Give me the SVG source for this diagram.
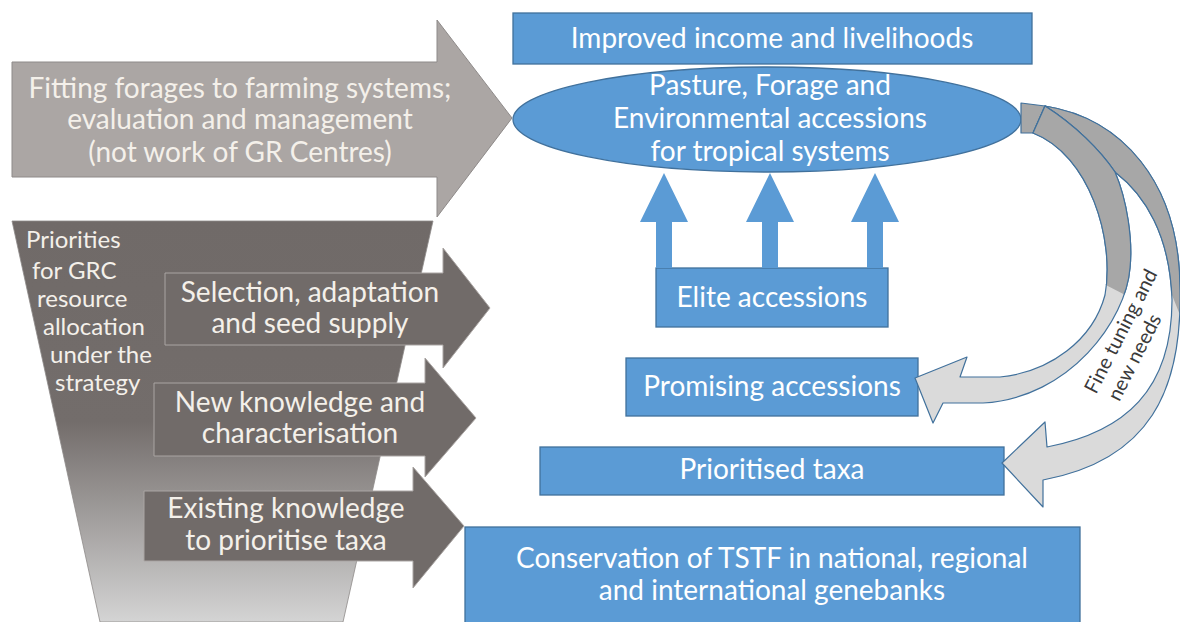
<svg xmlns="http://www.w3.org/2000/svg" width="1180" height="622" viewBox="0 0 1180 622">
<defs>
<style>
.box{fill:#5b9bd5;stroke:#41719c;stroke-width:1.3}
.wt{font-family:Lato,"Liberation Sans",sans-serif;font-size:28px;fill:#ffffff;text-anchor:middle}
.gt{font-family:Lato,"Liberation Sans",sans-serif;font-size:28px;fill:#f4f0ea;text-anchor:middle}
.ft{font-family:Lato,"Liberation Sans",sans-serif;font-size:24px;fill:#f4f0ea}
.ct{font-family:Lato,"Liberation Sans",sans-serif;font-size:20px;fill:#3a3a3a;text-anchor:start}
.garr{fill:#716b69;stroke:#aaa5a3;stroke-width:1}
.band{fill:#dadada;stroke:#41719c;stroke-width:1.2;stroke-linejoin:round}
.bandd{fill:#a7a7a7;stroke:#41719c;stroke-width:1.2;stroke-linejoin:round}
</style>
<linearGradient id="fun" x1="0" y1="221" x2="0" y2="622" gradientUnits="userSpaceOnUse">
<stop offset="0" stop-color="#706a68"/>
<stop offset="0.5" stop-color="#736d6b"/>
<stop offset="0.75" stop-color="#a3a09f"/>
<stop offset="1" stop-color="#d4d4d4"/>
</linearGradient>
<clipPath id="clipInner"><polygon points="900,0 1180,0 1180,310 1135,300 1100,282 900,282"/></clipPath>
<clipPath id="clipOuter"><polygon points="1000,0 1180,0 1180,315 1150,240 1000,240"/></clipPath>
</defs>

<g id="fitting-arrow">
<polygon points="12,62 437,62 437,20 512,118 437,217 437,177 12,177" fill="#aba6a4" stroke="#8e8a89" stroke-width="1"/>
<text class="gt" x="240" y="98">Fitting forages to farming systems;</text>
<text class="gt" x="240" y="129">evaluation and management</text>
<text class="gt" x="240" y="162">(not work of GR Centres)</text>
</g>

<g id="funnel">
<polygon points="12,221 433,221 343,622 100,622" fill="url(#fun)" stroke="#8e8a89" stroke-width="0.8"/>
<text class="ft" x="26" y="248">Priorities</text>
<text class="ft" x="32" y="279">for GRC</text>
<text class="ft" x="37" y="307">resource</text>
<text class="ft" x="43" y="335">allocation</text>
<text class="ft" x="50" y="363">under the</text>
<text class="ft" x="55" y="391">strategy</text>
</g>

<g id="selection-arrow">
<polygon class="garr" points="165,273 443,273 443,248 490,308 443,368 443,345 165,345"/>
<text class="gt" x="310" y="302">Selection, adaptation</text>
<text class="gt" x="310" y="333">and seed supply</text>
</g>

<g id="knowledge-arrow">
<polygon class="garr" points="154,383 425,383 425,358 476,418 425,477 425,456 154,456"/>
<text class="gt" x="300" y="412">New knowledge  and</text>
<text class="gt" x="300" y="443">characterisation</text>
</g>

<g id="existing-arrow">
<polygon class="garr" points="144,491 413,491 413,467 464,526 413,588 413,561 144,561"/>
<text class="gt" x="286" y="518">Existing knowledge</text>
<text class="gt" x="286" y="550">to prioritise taxa</text>
</g>

<g id="improved">
<rect class="box" x="513" y="13" width="519" height="51"/>
<text class="wt" x="772" y="48">Improved income and livelihoods</text>
</g>

<g id="pasture">
<ellipse class="box" cx="767" cy="119.5" rx="254" ry="52.5"/>
<text class="wt" x="770" y="95">Pasture, Forage and</text>
<text class="wt" x="770" y="128">Environmental accessions</text>
<text class="wt" x="770" y="161">for tropical systems</text>
</g>

<g id="elite">
<rect class="box" x="656" y="268" width="232" height="59"/>
<text class="wt" x="772" y="307">Elite accessions</text>
</g>

<g id="promising">
<rect class="box" x="626" y="358" width="292" height="58"/>
<text class="wt" x="772" y="396">Promising accessions</text>
</g>

<g id="prioritised">
<rect class="box" x="540" y="447" width="464" height="48"/>
<text class="wt" x="772" y="479">Prioritised taxa</text>
</g>

<g id="conservation">
<rect class="box" x="465" y="527" width="615" height="100"/>
<text class="wt" x="772" y="568">Conservation of TSTF in national, regional</text>
<text class="wt" x="772" y="600">and international genebanks</text>
</g>

<g id="connectors">
<g id="up-arrows" fill="#5b9bd5">
<polygon points="656,268 656,222 640,222 664,173 688,222 672,222 672,268"/>
<polygon points="762,268 762,222 746,222 770,173 794,222 778,222 778,268"/>
<polygon points="867,268 867,222 851,222 875,173 899,222 883,222 883,268"/>
</g>
<polygon class="bandd" points="1021,103 1045,106 1033,133 1021,133"/>
<g id="curve-outer">
<path class="band" d="M1045,106 C1120,118 1180,180 1180,290 C1182,390 1150,460 1043,480 L1043,507 L1002,463 L1045,422 L1047,447 C1125,432 1172,390 1172,300 C1170,235 1145,195 1115,172 C1100,150 1075,125 1045,106 Z"/>
<path class="bandd" clip-path="url(#clipOuter)" d="M1045,106 C1120,118 1180,180 1180,290 C1182,390 1150,460 1043,480 L1043,507 L1002,463 L1045,422 L1047,447 C1125,432 1172,390 1172,300 C1170,235 1145,195 1115,172 C1100,150 1075,125 1045,106 Z"/>
</g>
<g id="curve-inner">
<path class="band" d="M1033,133 L1045,106 C1075,125 1100,150 1115,172 C1127,200 1133,240 1130,268 C1126,320 1070,398 983,403 L943,403 L933,423 L915,378 L967,357 L960,377 L1000,377 C1050,372 1093,340 1105,295 C1115,240 1090,155 1033,133 Z"/>
<path class="bandd" clip-path="url(#clipInner)" d="M1033,133 L1045,106 C1075,125 1100,150 1115,172 C1127,200 1133,240 1130,268 C1126,320 1070,398 983,403 L943,403 L933,423 L915,378 L967,357 L960,377 L1000,377 C1050,372 1093,340 1105,295 C1115,240 1090,155 1033,133 Z"/>
</g>
<g transform="translate(1096,395) rotate(-63)">
<text class="ct" x="0" y="0">Fine tuning  and</text>
<text class="ct" x="4" y="24">new needs</text>
</g>
</g>
</svg>
